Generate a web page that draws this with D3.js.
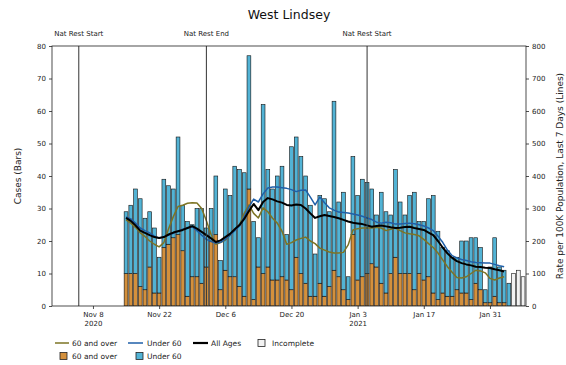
<!DOCTYPE html>
<html>
<head>
<meta charset="utf-8">
<script src="https://cdn.jsdelivr.net/npm/d3@7"></script>
<style>
  html, body { margin: 0; padding: 0; background: #fff; }
  svg { display: block; font-family: "DejaVu Sans", sans-serif; }
</style>
</head>
<body>
<svg id="chart" width="566" height="365"></svg>
<script>
// ---------- DATA ----------
const firstDay = "2020-11-15";
const over60Cases = [10,10,10,6,5,12,4,4,18,19, 21,22,17,3,9,9,7,12,20,22, 5,11,9,9,6,3,36,2,12,10,
  12,8,8,9,8,5,15,10,7,3, 3,7,3,6,11,9,5,2,22,8, 9,10,13,12,7,4,10,15,10,10,
  10,5,10,8,9,4,2,4,3,3, 5,4,4,2,7,5,1,1,3,1, 1,0];
const under60Cases = [19,21,26,27,22,17,20,11,21,18, 15,30,14,23,16,21,23,12,10,18, 9,25,25,34,36,38,41,24,9,52,
  30,28,32,34,14,44,37,36,33,28, 13,27,30,23,52,23,30,7,24,26, 30,28,23,16,28,25,18,27,22,18,
  24,30,16,18,24,30,21,14,14,12, 10,16,16,19,14,13,4,11,18,11, 10,7];
const incompleteCases = [10,11,9];
const allAgesRate = [271,262,248,232,225,218,212,209,212,220, 226,230,234,240,246,238,228,218,208,197,
  202,212,222,236,249,268,292,314,295,320, 332,328,322,318,311,309,312,311,300,285,
  271,276,280,277,274,270,265,260,256,254, 252,248,244,246,248,245,242,240,241,243,
  244,240,237,234,226,218,200,180,162,148, 138,132,128,125,121,120,118,117,113,110, 106];
const under60Rate = [274,268,255,240,232,225,215,209,212,218, 224,230,236,240,243,232,218,205,198,194,
  196,205,218,232,246,275,305,329,320,345, 363,366,366,364,362,358,352,356,357,335,
  311,335,318,302,295,289,288,286,283,280, 276,271,266,258,255,258,256,252,252,254,
  255,253,250,246,240,232,215,196,172,155, 148,143,140,136,134,133,132,132,128,124, 121];
const over60Rate = [265,255,242,225,214,200,190,182,195,238, 275,306,310,316,318,317,300,262,220,190,
  195,203,218,235,249,285,311,285,271,302, 290,270,255,230,190,195,203,208,212,200,
  192,178,172,166,163,163,165,188,234,238, 240,240,240,242,240,232,236,240,232,225,
  222,220,216,205,192,180,163,142,121,104, 88,86,90,100,110,108,102,85,80,86, 90];
const eventDates = ["2020-11-05", "2020-12-02", "2021-01-05"];
const eventLabels = ["Nat Rest Start", "Nat Rest End", "Nat Rest Start"];
const tickDates = ["2020-11-08","2020-11-22","2020-12-06","2020-12-20","2021-01-03","2021-01-17","2021-01-31"];
const tickLabels = ["Nov 8","Nov 22","Dec 6","Dec 20","Jan 3","Jan 17","Jan 31"];
const tickYears = ["2020","","","","2021","",""];
const caseTicks = [0,10,20,30,40,50,60,70,80];
const rateTicks = [0,100,200,300,400,500,600,700,800];

// ---------- DERIVED ----------
const parse = d3.utcParse("%Y-%m-%d");
const start = parse(firstDay);
const nCompleted = over60Cases.length;
const dates = d3.range(nCompleted + incompleteCases.length).map(i => d3.utcDay.offset(start, i));

// ---------- LAYOUT ----------
const L = 52, R = 526, T = 46, B = 306;
const svg = d3.select("#chart");
const x = d3.scaleUtc().domain([Date.UTC(2020,9,30,8), Date.UTC(2021,1,7,15)]).range([L, R]);
const yL = d3.scaleLinear().domain([0, 80]).range([B, T]);
const yR = d3.scaleLinear().domain([0, 800]).range([B, T]);
const dayW = x(Date.UTC(2020,10,2)) - x(Date.UTC(2020,10,1));
const bw = dayW * 0.8;

const cOver = "#d4903c", cUnder = "#52b3d5", cOverLine = "#7d7424", cUnderLine = "#1f5fa8";

svg.append("defs").append("clipPath").attr("id","clip")
  .append("rect").attr("x", L).attr("y", T).attr("width", R-L).attr("height", B-T);
const plot = svg.append("g").attr("clip-path","url(#clip)");

// Bars (stacked)
const barData = d3.range(nCompleted).map(i => ({d: dates[i], o: over60Cases[i], u: under60Cases[i]}));
plot.selectAll(".bo").data(barData).join("rect")
  .attr("x", d => x(d.d) - bw/2).attr("width", bw)
  .attr("y", d => yL(d.o)).attr("height", d => yL(0) - yL(d.o))
  .attr("fill", cOver).attr("stroke", "#111").attr("stroke-width", 0.6);
plot.selectAll(".bu").data(barData).join("rect")
  .attr("x", d => x(d.d) - bw/2).attr("width", bw)
  .attr("y", d => yL(d.o + d.u)).attr("height", d => yL(d.o) - yL(d.o + d.u))
  .attr("fill", cUnder).attr("stroke", "#111").attr("stroke-width", 0.6);
const incData = incompleteCases.map((v, k) => ({d: dates[nCompleted + k], v}));
plot.selectAll(".bi").data(incData).join("rect")
  .attr("x", d => x(d.d) - bw/2).attr("width", bw)
  .attr("y", d => yL(d.v)).attr("height", d => yL(0) - yL(d.v))
  .attr("fill", "#f2f2f2").attr("stroke", "#111").attr("stroke-width", 0.6);

// Event lines
eventDates.forEach((ds, k) => {
  const xx = x(parse(ds));
  svg.append("line").attr("x1", xx).attr("x2", xx).attr("y1", T).attr("y2", B)
    .attr("stroke", "#333").attr("stroke-width", 1);
  svg.append("text").attr("x", xx).attr("y", 36).attr("text-anchor","middle")
    .attr("font-size", 7).attr("fill", "#222").text(eventLabels[k]);
});

// Lines
function drawLine(vals, color, w) {
  const line = d3.line().x((v, i) => x(dates[i])).y(v => yR(v)).curve(d3.curveLinear);
  plot.append("path").attr("d", line(vals)).attr("fill","none")
    .attr("stroke", color).attr("stroke-width", w).attr("stroke-linejoin","round");
}
drawLine(over60Rate, cOverLine, 1.5);
drawLine(under60Rate, cUnderLine, 1.5);
drawLine(allAgesRate, "#000", 2);

// Frame
svg.append("rect").attr("x", L).attr("y", T).attr("width", R-L).attr("height", B-T)
  .attr("fill","none").attr("stroke","#222").attr("stroke-width", 0.8);

// Axes
const axL = svg.append("g").attr("transform", `translate(${L},0)`)
  .call(d3.axisLeft(yL).tickValues(caseTicks).tickSize(3).tickPadding(3));
const axR = svg.append("g").attr("transform", `translate(${R},0)`)
  .call(d3.axisRight(yR).tickValues(rateTicks).tickSize(3).tickPadding(3));
const axB = svg.append("g").attr("transform", `translate(0,${B})`)
  .call(d3.axisBottom(x).tickValues(tickDates.map(parse)).tickSize(3).tickPadding(3)
    .tickFormat((d, i) => tickLabels[i]));
[axL, axR, axB].forEach(g => {
  g.select(".domain").remove();
  g.selectAll("line").attr("stroke", "#222").attr("stroke-width", 0.8);
  g.selectAll("text").attr("font-size", 7).attr("fill", "#222").attr("font-family", "DejaVu Sans, sans-serif");
});
axB.selectAll(".tick text").each(function(d, i) {
  if (tickYears[i]) {
    d3.select(this).append("tspan").attr("x", 0).attr("dy", "1.3em").text(tickYears[i]);
  }
});

// Titles
svg.append("text").attr("x", (L+R)/2).attr("y", 19).attr("text-anchor","middle")
  .attr("font-size", 12.5).attr("fill","#111").text("West Lindsey");
svg.append("text").attr("transform", `translate(21,${(T+B)/2}) rotate(-90)`)
  .attr("text-anchor","middle").attr("font-size", 9).attr("fill","#222").text("Cases (Bars)");
svg.append("text").attr("transform", `translate(563,${(T+B)/2}) rotate(-90)`)
  .attr("text-anchor","middle").attr("font-size", 9).attr("fill","#222")
  .text("Rate per 100K Population, Last 7 Days (Lines)");

// Legend
const lg = svg.append("g").attr("font-size", 7.5).attr("fill", "#222");
const r1 = 343, r2 = 356;
const lineItems = [
  {x1: 55, x2: 69, tx: 72, c: cOverLine, w: 1.5, t: "60 and over"},
  {x1: 128, x2: 143, tx: 147, c: cUnderLine, w: 1.5, t: "Under 60"},
  {x1: 193, x2: 208, tx: 211, c: "#000", w: 2.2, t: "All Ages"}
];
lineItems.forEach(it => {
  lg.append("line").attr("x1", it.x1).attr("x2", it.x2).attr("y1", r1).attr("y2", r1)
    .attr("stroke", it.c).attr("stroke-width", it.w);
  lg.append("text").attr("x", it.tx).attr("y", r1).attr("dominant-baseline","central").text(it.t);
});
const boxItems = [
  {x: 258, y: r1, tx: 272, c: "#f2f2f2", t: "Incomplete"},
  {x: 60, y: r2, tx: 72, c: cOver, t: "60 and over"},
  {x: 136, y: r2, tx: 147, c: cUnder, t: "Under 60"}
];
boxItems.forEach(it => {
  lg.append("rect").attr("x", it.x).attr("y", it.y - 3.5).attr("width", 7).attr("height", 7)
    .attr("fill", it.c).attr("stroke", "#222").attr("stroke-width", 0.8);
  lg.append("text").attr("x", it.tx).attr("y", it.y).attr("dominant-baseline","central").text(it.t);
});
</script>
</body>
</html>
